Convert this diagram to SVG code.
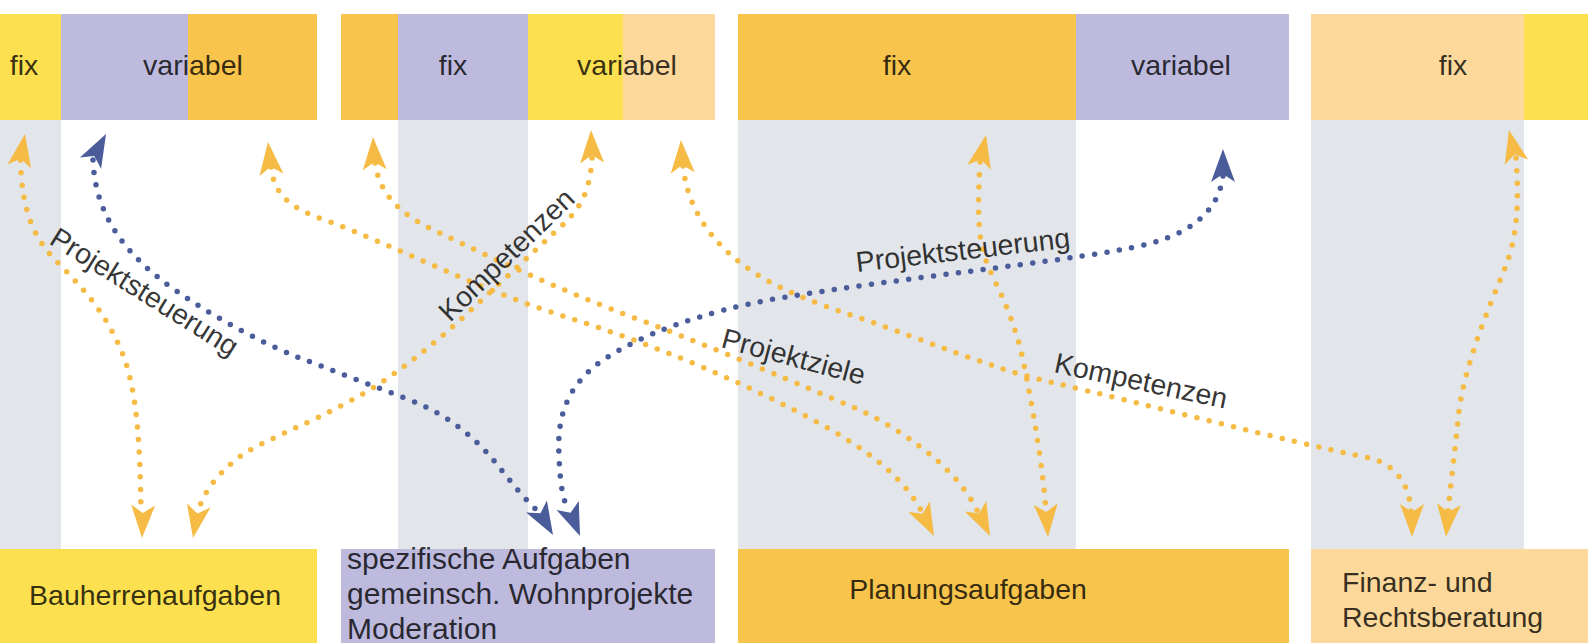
<svg xmlns="http://www.w3.org/2000/svg" xmlns:xlink="http://www.w3.org/1999/xlink" width="1588" height="643" viewBox="0 0 1588 643">
<style>
.t{font-family:"Liberation Sans",Arial,Helvetica,sans-serif;font-size:28.5px;fill:#000;fill-opacity:0.8}
.m{text-anchor:middle}
.big{font-size:30px}
.dO{fill:none;stroke:#f5bb44;stroke-width:5.5;stroke-linecap:round;stroke-dasharray:0 12.5}
.dB{fill:none;stroke:#4b5c9b;stroke-width:5.5;stroke-linecap:round;stroke-dasharray:0 12.5}
.aO{fill:#f5bb44}
.aB{fill:#4b5c9b}
.y{fill:#fde04f}.l{fill:#bdbade}.o{fill:#f8c44b}.p{fill:#fcd99a}.g{fill:#e2e5e9}
</style>
<defs>
<path id="ah" d="M0,0 L-33,-12 L-25,0 L-33,12 Z"/>
</defs>
<rect width="1588" height="643" fill="#fff"/>
<g id="columns">
<rect class="g" x="0" y="118" width="61" height="432"/>
<rect class="g" x="398" y="118" width="130" height="432"/>
<rect class="g" x="738" y="118" width="338" height="432"/>
<rect class="g" x="1311" y="118" width="213" height="432"/>
</g>
<g id="top1">
<rect class="y" x="0" y="14" width="61" height="106"/>
<rect class="l" x="61" y="14" width="127" height="106"/>
<rect class="o" x="188" y="14" width="129" height="106"/>
<text class="t m" x="24" y="75">fix</text>
<text class="t m" x="193" y="75">variabel</text>
</g>
<g id="top2">
<rect class="o" x="341" y="14" width="57" height="106"/>
<rect class="l" x="398" y="14" width="130" height="106"/>
<rect class="y" x="528" y="14" width="95" height="106"/>
<rect class="p" x="623" y="14" width="92" height="106"/>
<text class="t m" x="453" y="75">fix</text>
<text class="t m" x="627" y="75">variabel</text>
</g>
<g id="top3">
<rect class="o" x="738" y="14" width="338" height="106"/>
<rect class="l" x="1076" y="14" width="213" height="106"/>
<text class="t m" x="897" y="75">fix</text>
<text class="t m" x="1181" y="75">variabel</text>
</g>
<g id="top4">
<rect class="p" x="1311" y="14" width="213" height="106"/>
<rect class="y" x="1524" y="14" width="64" height="106"/>
<text class="t m" x="1453" y="75">fix</text>
</g>
<g id="bauherrenaufgaben">
<rect class="y" x="0" y="549" width="317" height="94"/>
<text class="t m" x="155" y="605">Bauherrenaufgaben</text>
</g>
<g id="spezifische">
<rect class="l" x="341" y="549" width="374" height="94"/>
<text class="t big" x="347" y="569">spezifische Aufgaben</text>
<text class="t big" x="347" y="604">gemeinsch. Wohnprojekte</text>
<text class="t big" x="347" y="639">Moderation</text>
</g>
<g id="planungsaufgaben">
<rect class="o" x="738" y="549" width="551" height="94"/>
<text class="t m" x="968" y="599">Planungsaufgaben</text>
</g>
<g id="finanz">
<rect class="p" x="1311" y="549" width="277" height="94"/>
<text class="t" x="1342" y="592">Finanz- und</text>
<text class="t" x="1342" y="627">Rechtsberatung</text>
</g>
<g id="connectors">
<path class="dO" d="M20.5,160 C22,215 35,240 60,265 C90,295 110,320 125,360 C138,400 140,450 141,512"/>
<path class="dB" d="M93,160 C95,215 125,255 175,290 C215,318 260,342 300,358 L410,400 C450,416 475,438 495,462 C515,487 528,503 539,512"/>
<path class="dO" d="M592,158 C590,195 578,212 555,232 L470,311 C430,348 390,380 350,401 C310,423 270,438 245,453 C220,470 203,492 198,512"/>
<path class="dB" d="M1223,176 C1218,215 1185,238 1130,248 C1060,262 900,278 780,298 C700,312 640,335 600,362 C565,388 557,420 559,455 C560,485 563,500 569,512"/>
<path class="dO" d="M271,167 C274,195 290,208 325,220 C400,248 480,290 560,315 C640,340 720,372 790,408 C850,438 900,470 922,512"/>
<path class="dO" d="M375,163 C380,195 400,215 440,233 C500,262 560,290 640,320 C720,350 800,385 860,410 C920,440 960,475 978,512"/>
<path class="dO" d="M683,166 C688,215 720,255 770,282 C800,298 830,308 860,318 C930,342 990,368 1050,382 C1150,405 1280,440 1370,458 C1400,466 1410,490 1411,512"/>
<path class="dO" d="M980,162 C978,200 977,235 985,258 C995,285 1015,315 1025,370 C1035,420 1043,470 1046,512"/>
<path class="dO" d="M1516,158 C1519,200 1518,235 1505,268 C1490,305 1462,370 1458,420 C1454,460 1450,490 1448,512"/>
<use xlink:href="#ah" class="aO" transform="translate(25,134) rotate(-80)"/>
<use xlink:href="#ah" class="aB" transform="translate(106,134) rotate(-62)"/>
<use xlink:href="#ah" class="aO" transform="translate(268,142) rotate(-96)"/>
<use xlink:href="#ah" class="aO" transform="translate(373,137) rotate(-93)"/>
<use xlink:href="#ah" class="aO" transform="translate(591,130) rotate(-92)"/>
<use xlink:href="#ah" class="aO" transform="translate(681,140) rotate(-93)"/>
<use xlink:href="#ah" class="aO" transform="translate(986,135) rotate(-78)"/>
<use xlink:href="#ah" class="aB" transform="translate(1223,149) rotate(-90)"/>
<use xlink:href="#ah" class="aO" transform="translate(1509,130) rotate(-103)"/>
<use xlink:href="#ah" class="aO" transform="translate(142,538) rotate(92)"/>
<use xlink:href="#ah" class="aO" transform="translate(193,538) rotate(100)"/>
<use xlink:href="#ah" class="aB" transform="translate(553,535) rotate(60)"/>
<use xlink:href="#ah" class="aB" transform="translate(580,536) rotate(68)"/>
<use xlink:href="#ah" class="aO" transform="translate(934,536) rotate(63)"/>
<use xlink:href="#ah" class="aO" transform="translate(990,536) rotate(64)"/>
<use xlink:href="#ah" class="aO" transform="translate(1048,537) rotate(86)"/>
<use xlink:href="#ah" class="aO" transform="translate(1412,537) rotate(90)"/>
<use xlink:href="#ah" class="aO" transform="translate(1446,537) rotate(95)"/>
<text class="t" transform="translate(48,243) rotate(32)">Projektsteuerung</text>
<text class="t" transform="translate(450,323) rotate(-44)">Kompetenzen</text>
<text class="t" transform="translate(857,272) rotate(-6.6)">Projektsteuerung</text>
<text class="t" transform="translate(720,347) rotate(15)">Projektziele</text>
<text class="t" transform="translate(1053,372) rotate(12)">Kompetenzen</text>
</g>
</svg>
